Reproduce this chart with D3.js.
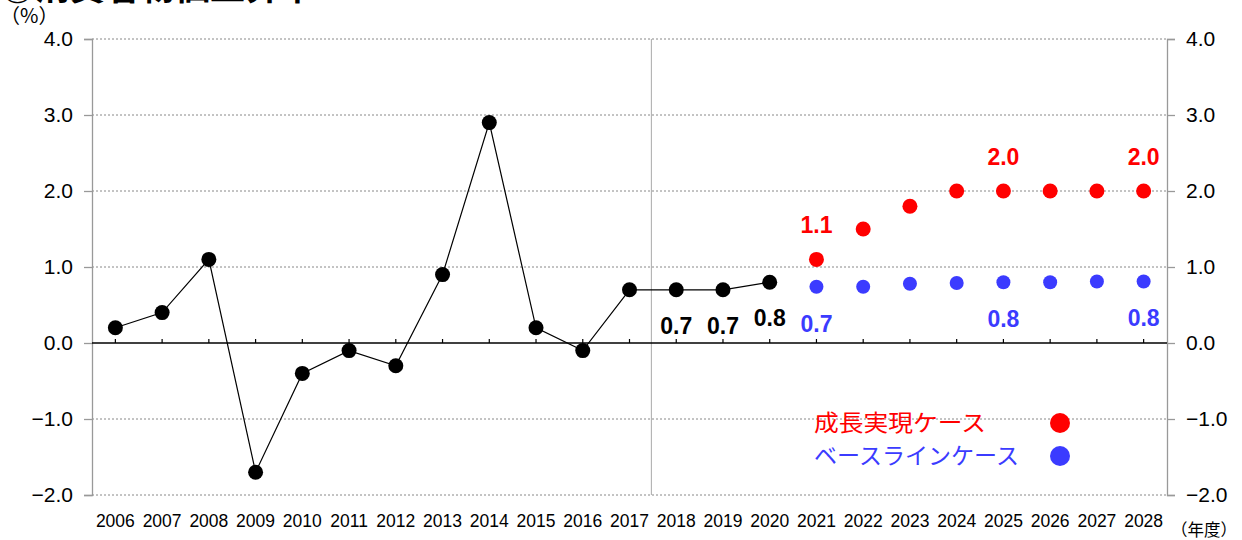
<!DOCTYPE html>
<html><head><meta charset="utf-8">
<script src="https://cdn.jsdelivr.net/npm/d3@7"></script>
<style>body{margin:0;background:#fff}svg{display:block}</style>
</head><body>
<svg id="c" width="1242" height="540"></svg>
<script>
const years = ["2006","2007","2008","2009","2010","2011","2012","2013","2014","2015","2016","2017","2018","2019","2020","2021","2022","2023","2024","2025","2026","2027","2028"];
const actualYears = ["2006","2007","2008","2009","2010","2011","2012","2013","2014","2015","2016","2017","2018","2019","2020"];
const actualValues = [0.2,0.4,1.1,-1.7,-0.4,-0.1,-0.3,0.9,2.9,0.2,-0.1,0.7,0.7,0.7,0.8];
const projYears = ["2021","2022","2023","2024","2025","2026","2027","2028"];
const growthValues = [1.1,1.5,1.8,2.0,2.0,2.0,2.0,2.0];
const baselineValues = [0.74,0.74,0.78,0.79,0.8,0.8,0.81,0.81];
const yTicks = [4,3,2,1,0,-1,-2];
const actualLabels = [{year:"2018",text:"0.7"},{year:"2019",text:"0.7"},{year:"2020",text:"0.8"}];
const growthLabels = [{year:"2021",text:"1.1"},{year:"2025",text:"2.0"},{year:"2028",text:"2.0"}];
const baselineLabels = [{year:"2021",text:"0.7"},{year:"2025",text:"0.8"},{year:"2028",text:"0.8"}];
const legendNames = ["成長実現ケース","ベースラインケース"];
const titleText = "③消費者物価上昇率";

const RED = "#ff0000", BLUE = "#3b3bff";
const svg = d3.select("#c");
const L = 92, R = 1167, T = 39, B = 495;
const x = d3.scaleBand().domain(years).range([L, R]).padding(0);
const cx = d => x(d) + x.bandwidth()/2;
const y = d3.scaleLinear().domain([-2, 4]).range([B, T]);
const jp = "'Noto Sans CJK JP', sans-serif";
const num = "'Liberation Sans', Arial, sans-serif";

// title (cut off at top, as in the source image)
svg.append("text").attr("x", 0).attr("y", 0).attr("font-family", jp).attr("font-weight", "bold")
  .attr("font-size", 35).attr("fill", "#000").text(titleText);

// gridlines
svg.append("g").selectAll("line").data(yTicks.filter(v => v !== 0)).join("line")
  .attr("x1", L).attr("x2", R).attr("y1", d => y(d)).attr("y2", d => y(d))
  .attr("stroke", "#888").attr("stroke-width", 1).attr("stroke-dasharray", "2,2");

const fmt = d => (d < 0 ? "−" : "") + Math.abs(d).toFixed(1);
// left axis
const gl = svg.append("g").attr("transform", `translate(${L},0)`)
  .call(d3.axisLeft(y).tickValues(yTicks).tickSize(8).tickPadding(11).tickFormat(fmt));
gl.select(".domain").attr("stroke", "#999").attr("stroke-width", 1.3);
gl.selectAll(".tick line").attr("stroke", "#999").attr("stroke-width", 1.3);
gl.selectAll("text").attr("font-family", num).attr("font-size", 21).attr("fill", "#000");

// right axis
const gr = svg.append("g").attr("transform", `translate(${R},0)`)
  .call(d3.axisRight(y).tickValues(yTicks).tickSize(8).tickPadding(11).tickFormat(fmt));
gr.select(".domain").attr("stroke", "#999").attr("stroke-width", 1.3);
gr.selectAll(".tick line").attr("stroke", "#999").attr("stroke-width", 1.3);
gr.selectAll("text").attr("font-family", num).attr("font-size", 21).attr("fill", "#000");

// divider between actual and projection
svg.append("line").attr("x1", x("2018")-1.5).attr("x2", x("2018")-1.5).attr("y1", T).attr("y2", B)
  .attr("stroke", "#aaa").attr("stroke-width", 1);

// zero axis with category ticks
const gx = svg.append("g").attr("transform", `translate(0,${y(0)})`)
  .call(d3.axisTop(x).tickSize(4).tickFormat(""));
gx.select(".domain").attr("stroke", "#000").attr("stroke-width", 1.6).attr("d", `M${L},0H${R}`);
gx.selectAll(".tick line").attr("stroke", "#000").attr("stroke-width", 1.2);

// year labels
svg.append("g").selectAll("text").data(years).join("text")
  .attr("x", d => cx(d)).attr("y", 527).attr("text-anchor", "middle")
  .attr("font-family", num).attr("font-size", 17.5).attr("fill", "#000").text(d => d);

svg.append("text").attr("x", 0).attr("y", 23).attr("font-family", jp).attr("font-size", 20).text("（%）");
svg.append("text").attr("x", 1171).attr("y", 536).attr("font-family", jp).attr("font-size", 16.5).text("（年度）");

// actual line
const actual = actualYears.map((yr, i) => ({yr, v: actualValues[i]}));
svg.append("path").datum(actual)
  .attr("d", d3.line().x(d => cx(d.yr)).y(d => y(d.v)))
  .attr("fill", "none").attr("stroke", "#000").attr("stroke-width", 1.2);
svg.append("g").selectAll("circle").data(actual).join("circle")
  .attr("cx", d => cx(d.yr)).attr("cy", d => y(d.v)).attr("r", 7.5).attr("fill", "#000");

// projections
const growth = projYears.map((yr, i) => ({yr, v: growthValues[i]}));
const base = projYears.map((yr, i) => ({yr, v: baselineValues[i]}));
svg.append("g").selectAll("circle").data(growth).join("circle")
  .attr("cx", d => cx(d.yr)).attr("cy", d => y(d.v)).attr("r", 7.5).attr("fill", RED);
svg.append("g").selectAll("circle").data(base).join("circle")
  .attr("cx", d => cx(d.yr)).attr("cy", d => y(d.v)).attr("r", 7).attr("fill", BLUE);

// value labels
const lab = (data, color, dy, valArr, yrArr) => svg.append("g").selectAll("text").data(data).join("text")
  .attr("x", d => cx(d.year)).attr("y", d => y(valArr[yrArr.indexOf(d.year)]) + dy)
  .attr("text-anchor", "middle").attr("font-family", num).attr("font-weight", "bold")
  .attr("font-size", 23).attr("fill", color).text(d => d.text);
lab(actualLabels, "#000", 44, actualValues, actualYears);
lab(growthLabels, RED, -26, growthValues, projYears);
lab(baselineLabels, BLUE, 45, baselineValues, projYears);

// legend
const lg = svg.append("g");
const legendLen = [172, 205];
[RED, BLUE].forEach((c, i) => {
  const yy = 423 + i * 33;
  lg.append("text").attr("x", 814).attr("y", yy + 8).attr("font-family", jp).attr("font-size", 23)
    .attr("textLength", legendLen[i]).attr("lengthAdjust", "spacingAndGlyphs")
    .attr("fill", c).text(legendNames[i]);
  lg.append("circle").attr("cx", 1060).attr("cy", yy).attr("r", 10).attr("fill", c);
});
</script>
</body></html>
